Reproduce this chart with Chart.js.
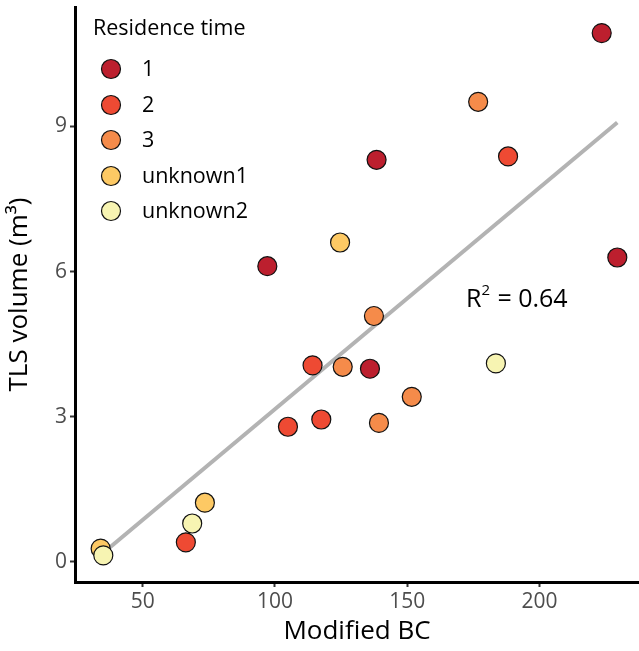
<!DOCTYPE html>
<html>
<head>
<meta charset="utf-8">
<script src="https://cdn.jsdelivr.net/npm/chart.js@4"></script>
<style>
  html, body { margin: 0; padding: 0; background: #fff; }
  #wrap { width: 639px; height: 651px; position: relative; }
</style>
</head>
<body>
<div id="wrap"><canvas id="chart"></canvas></div>
<script>
const GROUPS = ['1', '2', '3', 'unknown1', 'unknown2'];
const COLORS = ['#bc1f2e', '#ee4a33', '#f58b4a', '#fdc964', '#f7f4b2'];

// Modified BC / TLS volume per residence time group
const bc1   = [223.5, 138.4, 97.1, 229.4, 135.9];
const vol1  = [10.93, 8.31, 6.11, 6.29, 3.99];
const bc2   = [188.1, 114.2, 104.9, 117.5, 66.3];
const vol2  = [8.38, 4.06, 2.79, 2.94, 0.40];
const bc3   = [176.8, 137.4, 125.6, 151.7, 139.3];
const vol3  = [9.51, 5.08, 4.03, 3.41, 2.87];
const bcU1  = [124.6, 73.5, 34.1];
const volU1 = [6.60, 1.22, 0.27];
const bcU2  = [183.5, 68.7, 35.1];
const volU2 = [4.10, 0.79, 0.13];

// fitted line end points
const fitX = [36.4, 229.4];
const fitY = [0.24, 9.08];

const xTicks = [50, 100, 150, 200];
const yTicks = [0, 3, 6, 9];

const FONT = '"Open Sans", "Noto Sans", sans-serif';

const toPts = (xs, ys) => xs.map((x, i) => ({ x, y: ys[i] }));
const groupData = [
  toPts(bc1, vol1), toPts(bc2, vol2), toPts(bc3, vol3), toPts(bcU1, volU1), toPts(bcU2, volU2)
];

const datasets = GROUPS.map((g, i) => ({
  type: 'scatter',
  label: g,
  data: groupData[i],
  backgroundColor: COLORS[i],
  borderColor: '#111',
  borderWidth: 1.2,
  pointRadius: 9.5,
  pointHoverRadius: 9.5,
  order: 5 - i,
}));

datasets.push({
  type: 'line',
  label: 'fit',
  data: toPts(fitX, fitY),
  borderColor: '#b3b3b3',
  borderWidth: 4,
  pointRadius: 0,
  fill: false,
  order: 10,
});

// legend + R² label drawn inside the plot
const extras = {
  id: 'extras',
  afterDatasetsDraw(chart) {
    const c = chart.ctx;
    c.save();
    c.fillStyle = '#000';
    c.textBaseline = 'middle';
    c.textAlign = 'left';
    c.font = '21.5px ' + FONT;
    c.fillText('Residence time', 93, 29);
    const ys = [69, 105, 140, 176, 211];
    GROUPS.forEach((g, i) => {
      c.beginPath();
      c.arc(111, ys[i], 9.5, 0, Math.PI * 2);
      c.fillStyle = COLORS[i];
      c.fill();
      c.lineWidth = 1.2;
      c.strokeStyle = '#111';
      c.stroke();
      c.fillStyle = '#000';
      c.fillText(g, 142, ys[i] + 1);
    });

    const x = chart.scales.x.getPixelForValue(172.2);
    const y = chart.scales.y.getPixelForValue(5.41);
    c.font = '25px ' + FONT;
    c.fillText('R', x, y);
    const w = c.measureText('R').width;
    c.font = '15px ' + FONT;
    c.fillText('2', x + w, y - 9);
    c.font = '25px ' + FONT;
    c.fillText('= 0.64', x + w + 16, y);
    c.restore();
  }
};

new Chart(document.getElementById('chart'), {
  data: { datasets },
  options: {
    responsive: true,
    maintainAspectRatio: false,
    animation: false,
    layout: { autoPadding: false, padding: { top: 7, right: 0, left: 0, bottom: 0 } },
    plugins: {
      legend: { display: false },
      tooltip: { enabled: false },
    },
    scales: {
      x: {
        type: 'linear',
        min: 24.4,
        max: 237.6,
        afterBuildTicks: s => { s.ticks = xTicks.map(v => ({ value: v })); },
        afterFit: s => { s.height = 69; s.paddingLeft = 0; s.paddingRight = 0; },
        border: { color: '#000', width: 3 },
        grid: { drawOnChartArea: false, tickLength: 5, color: '#333', tickWidth: 2 },
        ticks: { color: '#4d4d4d', padding: 2, font: { family: FONT, size: 21 } },
        title: { display: true, text: 'Modified BC', color: '#000', padding: { top: 0 }, font: { family: FONT, size: 26 } },
      },
      y: {
        type: 'linear',
        min: -0.42,
        max: 11.47,
        afterBuildTicks: s => { s.ticks = yTicks.map(v => ({ value: v })); },
        afterFit: s => { s.width = 75; s.paddingTop = 0; s.paddingBottom = 0; },
        border: { color: '#000', width: 3 },
        grid: { drawOnChartArea: false, tickLength: 5, color: '#333', tickWidth: 2 },
        ticks: { color: '#4d4d4d', padding: 3, font: { family: FONT, size: 21 } },
        title: { display: true, text: 'TLS volume (m³)', color: '#000', padding: { bottom: 2 }, font: { family: FONT, size: 26 } },
      }
    }
  },
  plugins: [extras]
});
</script>
</body>
</html>
